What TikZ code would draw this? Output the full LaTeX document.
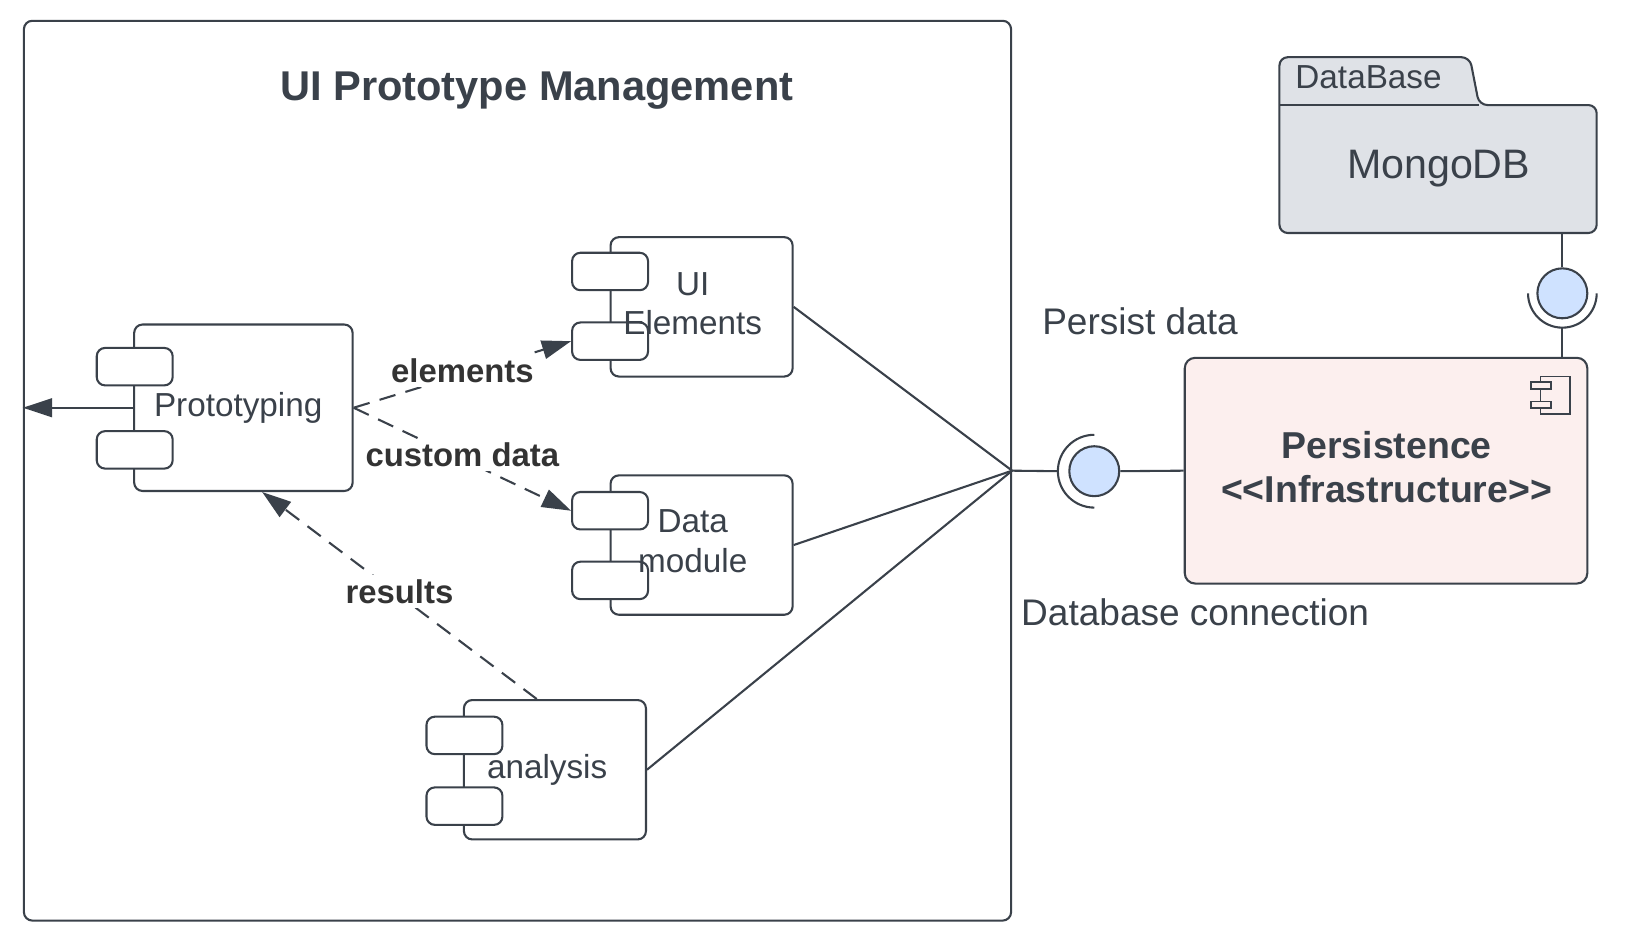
\documentclass[tikz,border=0pt]{standalone}
\usepackage{fontspec}
\setmainfont{Liberation Sans}
\usetikzlibrary{arrows.meta}
\definecolor{ink}{RGB}{58,65,74}
\definecolor{labelink}{RGB}{51,51,51}
\definecolor{ballfill}{RGB}{207,226,255}
\definecolor{persfill}{RGB}{252,239,238}
\definecolor{dbfill}{RGB}{223,226,231}
\tikzset{
  line/.style={draw=ink, line width=1pt},
  mainbox/.style={line, rounded corners=4pt, fill=white, inner sep=0pt, minimum width=87.5pt, minimum height=67pt},
  portbox/.style={line, rounded corners=4pt, fill=white, minimum width=36.5pt, minimum height=18pt, inner sep=0pt},
  ctext/.style={text=ink, font=\fontsize{16}{19}\selectfont, anchor=base, inner sep=0pt},
  btext/.style={text=ink, font=\bfseries\fontsize{18}{21}\selectfont, anchor=base, inner sep=0pt},
  ltext/.style={text=ink, font=\fontsize{17.8}{21}\selectfont, anchor=base, inner sep=0pt},
  blabel/.style={text=labelink, font=\bfseries\fontsize{15.8}{19}\selectfont, fill=white, inner sep=2pt, yshift=2pt},
  dashline/.style={line, dash pattern=on 8pt off 5pt},
  tip/.style={-{Triangle[length=14pt,width=9pt]}},
  ball/.style={line, circle, fill=ballfill, minimum size=24pt, inner sep=0pt},
}
\begin{document}
\begin{tikzpicture}[x=0.5pt,y=-0.5pt]
\useasboundingbox (0,0) rectangle (1568,914);
\fill[white] (0,0) rectangle (1568,914);

% frame
\node[line, rounded corners=4pt, minimum width=474.5pt, minimum height=432.5pt, inner sep=0pt] (frame) at (497.5,452.5) {};
\node[text=ink, font=\bfseries\fontsize{20}{24}\selectfont, anchor=base, inner sep=0pt] (title) at (516,97) {UI Prototype Management};
\coordinate (hub) at (frame.east);

% Prototyping
\node[mainbox, minimum width=105pt, minimum height=80pt] (proto) at (234,392) {};
\node[portbox] (protop1) at (129.5,352.5) {};
\node[portbox] (protop2) at (129.5,432.5) {};
\node[ctext] (protot) at (229,400) {Prototyping};

% UI Elements
\node[mainbox] (ui) at (674.5,295) {};
\node[portbox] (uip1) at (586.5,261) {};
\node[portbox] (uip2) at (586.5,328) {};
\node[ctext] (uit1) at (666,284) {UI};
\node[ctext] (uit2) at (666,322) {Elements};

% Data module
\node[mainbox] (dm) at (674.5,524) {};
\node[portbox] (dmp1) at (586.5,491) {};
\node[portbox] (dmp2) at (586.5,558) {};
\node[ctext] (dmt1) at (666,512) {Data};
\node[ctext] (dmt2) at (666,550) {module};

% analysis
\node[mainbox] (an) at (533.5,740) {};
\node[portbox] (anp1) at (446.5,707) {};
\node[portbox] (anp2) at (446.5,775) {};
\node[ctext] (ant) at (526,748) {analysis};

% connectors inside
\draw[line, tip] (proto.west) -- (proto.west -| frame.west);
\draw[dashline, tip] (proto.east) -- node[blabel] (lbl1) {elements} (uip2.west);
\draw[dashline, tip] (proto.east) -- node[blabel] (lbl2) {custom data} (dmp1.west);
\draw[dashline, tip] ([xshift=-8.75pt]an.north) -- node[blabel] (lbl3) {results} ([xshift=9pt]proto.south);
\draw[line] (ui.east) -- (hub);
\draw[line] (dm.east) -- (hub);
\draw[line] (an.east) -- (hub);

% Persistence
\node[line, rounded corners=5pt, fill=persfill, minimum width=193.5pt, minimum height=108.5pt, inner sep=0pt] (pers) at (1332.5,452.5) {};
\node[btext] (perst1) at (1333,441) {Persistence};
\node[btext] (perst2) at (1333,483) {<\kern0pt<Infrastructure>\kern0pt>};
\draw[line, line width=0.9pt] (1481,362) rectangle (1509,398);
\filldraw[line, line width=0.9pt, fill=persfill] (1472,367) rectangle (1491,374);
\filldraw[line, line width=0.9pt, fill=persfill] (1472,386) rectangle (1491,392);

% horizontal interface
\node[ball] (ball1) at (1052,453) {};
\draw[line] ([yshift=17.5pt]ball1.center) arc[start angle=90, end angle=270, radius=17.5pt];
\draw[line] (hub) -- ([xshift=-17.5pt]ball1.center);
\draw[line] (ball1.east) -- (pers.west);
\node[ltext] (persist) at (1096,322) {Persist data};
\node[ltext] (dbconn) at (1149,601) {Database connection};

% database package
\filldraw[line, fill=dbfill, rounded corners=4pt] (1230,224) -- (1230,55) -- (1413,55) -- (1422,101) -- (1535,101) -- (1535,224) -- cycle;
\draw[line] (1230,101) -- (1422,101);
\node[minimum width=152.5pt, minimum height=61.5pt, inner sep=0pt] (db) at (1382.5,162.5) {};
\node[text=ink, font=\fontsize{19.8}{24}\selectfont, anchor=base, inner sep=0pt] (dbt) at (1383,172) {MongoDB};
\node[text=ink, font=\fontsize{16}{19}\selectfont, anchor=base west, inner sep=0pt] (dbtab) at (1245,85) {DataBase};

% vertical interface
\node[ball] (ball2) at (1502,282) {};
\draw[line] ([xshift=-16.5pt]ball2.center) arc[start angle=180, end angle=360, radius=16.5pt];
\draw[line] (ball2.north) -- (ball2.north |- db.south);
\draw[line] ([yshift=-16.5pt]ball2.center) -- (ball2 |- pers.north);
\end{tikzpicture}
\end{document}
